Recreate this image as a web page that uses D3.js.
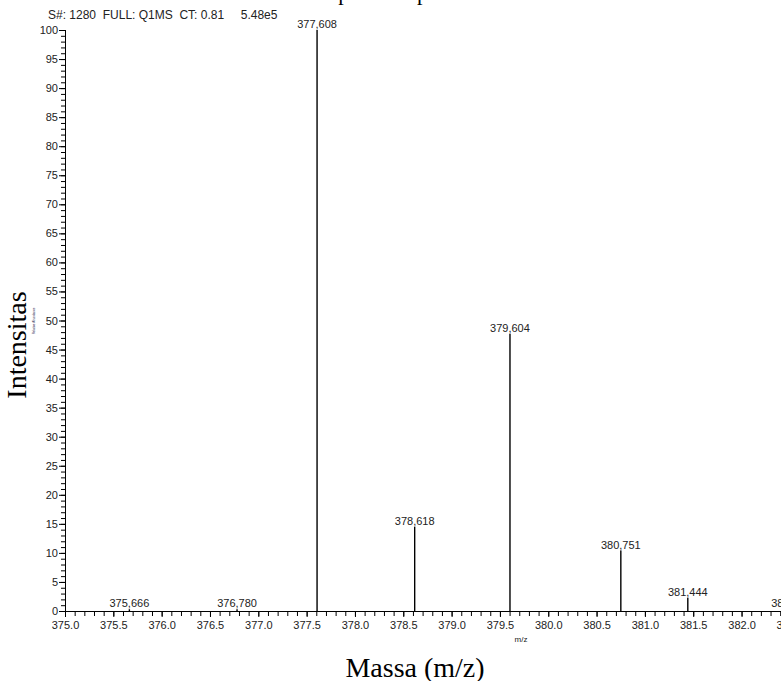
<!DOCTYPE html>
<html>
<head>
<meta charset="utf-8">
<script src="https://d3js.org/d3.v7.min.js"></script>
<style>
  html, body { margin: 0; padding: 0; background: #fff; }
  svg { display: block; overflow: hidden; }
  text { white-space: pre; }
</style>
</head>
<body>
<div id="chart"></div>
<script>
// peaks
var masses = [375.666, 376.780, 377.608, 378.618, 379.604, 380.751, 381.444, 382.512];
var intensities = [0.3, 0.3, 100, 14.5, 47.7, 10.4, 2.3, 0.4];
var peakLabels = ["375,666", "376,780", "377,608", "378,618", "379,604", "380,751", "381,444", "382,512"];

var xMajorTicks = d3.range(0, 16).map(i => 375 + i * 0.5);
var xMinorTicks = d3.range(0, 76).map(i => 375 + i * 0.1);
var yMajorTicks = d3.range(0, 21).map(i => i * 5);
var yMinorTicks = d3.range(0, 101);

var headerText = "S#: 1280  FULL: Q1MS  CT: 0.81     5.48e5";
var titleText = "Spektrum pada";

var width = 781,
    height = 681;

var x = d3.scaleLinear().domain([375, 382.5]).range([65, 65 + 7.5 * 96.65]);
var y = d3.scaleLinear().domain([0, 100]).range([611, 30]);

var svg = d3.select("#chart")
            .append("svg")
            .attr("width", width)
            .attr("height", height);

var sans = "'Liberation Sans', Arial, sans-serif",
    serif = "'Liberation Serif', 'Times New Roman', serif",
    ink = "#222";

// clipped title (only descenders show)
svg.append("text")
   .attr("x", 326)
   .attr("y", 0)
   .style("font-family", serif)
   .style("font-size", "22px")
   .text(titleText);

// header line
svg.append("text")
   .attr("x", 48)
   .attr("y", 19)
   .style("font-family", sans)
   .style("font-size", "12px")
   .style("fill", ink)
   .text(headerText);

// x axis: minor then major ticks
var xMinor = d3.axisBottom(x).tickValues(xMinorTicks).tickSize(5).tickFormat("");
var xMajor = d3.axisBottom(x).tickValues(xMajorTicks).tickSize(6).tickPadding(4).tickFormat(d3.format(".1f"));

svg.append("g")
   .attr("transform", `translate(0,${y(0)})`)
   .call(xMinor)
   .call(g => g.select(".domain").remove());

var gx = svg.append("g")
   .attr("transform", `translate(0,${y(0)})`)
   .call(xMajor);
gx.select(".domain").attr("d", `M${x(375)},0.5H${width}`);
gx.selectAll("text")
  .style("font-family", sans)
  .style("font-size", "11px")
  .style("fill", ink);

// y axis
var yMinor = d3.axisLeft(y).tickValues(yMinorTicks).tickSize(4).tickFormat("");
var yMajor = d3.axisLeft(y).tickValues(yMajorTicks).tickSize(6).tickPadding(1).tickFormat(d3.format("d"));

svg.append("g")
   .attr("transform", `translate(${x(375)},0)`)
   .call(yMinor)
   .call(g => g.select(".domain").remove());

var gy = svg.append("g")
   .attr("transform", `translate(${x(375)},0)`)
   .call(yMajor);
gy.select(".domain").attr("d", `M0.5,${y(100)}V${y(0)}`);
gy.selectAll("text")
  .style("font-family", sans)
  .style("font-size", "11px")
  .style("fill", ink);

svg.selectAll(".tick line").attr("stroke", "#000");
svg.selectAll(".domain").attr("stroke", "#000");

// peaks
var peaks = masses.map((m, i) => ({mass: m, value: intensities[i], label: peakLabels[i]}));

svg.selectAll(".peak")
   .data(peaks)
   .enter()
   .append("line")
   .attr("class", "peak")
   .attr("x1", d => x(d.mass))
   .attr("x2", d => x(d.mass))
   .attr("y1", y(0))
   .attr("y2", d => y(d.value))
   .attr("stroke", "#000")
   .attr("stroke-width", 1.4);

svg.selectAll(".peak-label")
   .data(peaks)
   .enter()
   .append("text")
   .attr("class", "peak-label")
   .attr("x", d => x(d.mass))
   .attr("y", d => y(d.value) - 2)
   .attr("text-anchor", "middle")
   .style("font-family", sans)
   .style("font-size", "11px")
   .style("fill", ink)
   .text(d => d.label);

// small instrument axis label
svg.append("text")
   .attr("x", 521)
   .attr("y", 642)
   .attr("text-anchor", "middle")
   .style("font-family", sans)
   .style("font-size", "8px")
   .style("fill", ink)
   .text("m/z");

svg.append("text")
   .attr("transform", "translate(35,321) rotate(-90)")
   .attr("text-anchor", "middle")
   .style("font-family", sans)
   .style("font-size", "3px")
   .style("fill", "#335")
   .text("Relative Abundance");

// axis titles
svg.append("text")
   .attr("x", 415)
   .attr("y", 677)
   .attr("text-anchor", "middle")
   .style("font-family", serif)
   .style("font-size", "28px")
   .text("Massa (m/z)");

svg.append("text")
   .attr("transform", "translate(26,345) rotate(-90)")
   .attr("text-anchor", "middle")
   .style("font-family", serif)
   .style("font-size", "28px")
   .text("Intensitas");
</script>
</body>
</html>
